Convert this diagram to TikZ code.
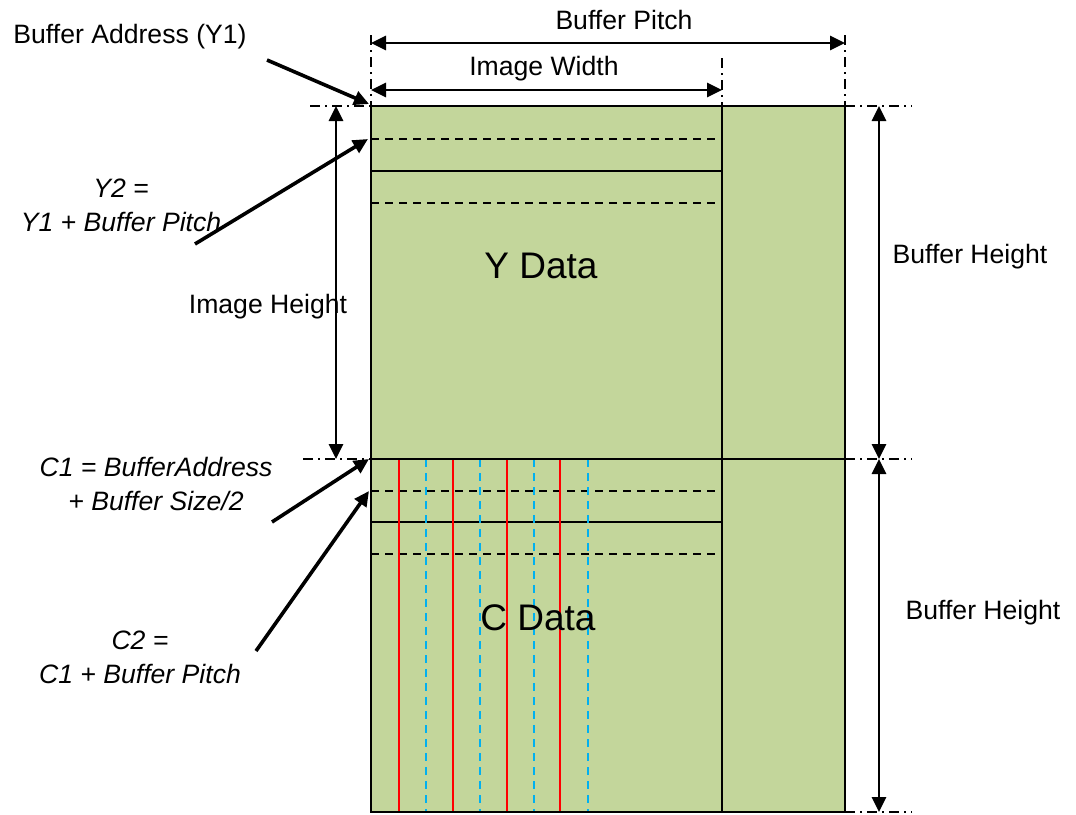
\documentclass[tikz,border=0pt]{standalone}
\usepackage{fontspec}
\setmainfont{Liberation Sans}
\usetikzlibrary{arrows.meta,calc,positioning}
\definecolor{bufgreen}{RGB}{195,214,155}
\definecolor{chromablue}{RGB}{0,176,240}
\tikzset{
  buf/.style={line width=1pt},
  rowdash/.style={line width=1pt,dash pattern=on 4pt off 3pt},
  redcol/.style={red,line width=0.9pt},
  bluecol/.style={chromablue,line width=0.9pt,dash pattern=on 4pt off 3pt},
  extline/.style={line width=0.6pt,dash pattern=on 5pt off 2.5pt on 1pt off 2.5pt},
  dimline/.style={line width=1.4pt},
  pointer/.style={line width=1.8pt,->},
  formula/.style={align=center,font=\fontsize{13.3}{17}\selectfont\itshape},
  bigtxt/.style={font=\fontsize{18.5}{22}\selectfont}
}
\begin{document}
\begin{tikzpicture}[x=0.5pt,y=-0.5pt,>={Triangle[length=7.5pt,width=7pt]},
    font=\fontsize{13.3}{17}\selectfont]
  \useasboundingbox (0,0) rectangle (1076,814);
  % buffer outline
  \coordinate (tl) at (371,106);
  \coordinate (tr) at (845,106);
  \coordinate (ml) at (371,459);
  \coordinate (mr) at (845,459);
  \coordinate (bl) at (371,812);
  \coordinate (br) at (845,812);
  \coordinate (wt) at (722,106);
  \coordinate (wb) at (722,812);
  \fill[bufgreen] (tl) rectangle (br);
  % rows of Y and C planes
  \foreach \y/\s in {139/rowdash,171/buf,203/rowdash,491/rowdash,522/buf,554/rowdash}
    \draw[\s] (371,\y) -- (722,\y);
  \foreach \x in {399,453,507,560}
    \draw[redcol] (\x,459) -- (\x,812);
  \foreach \x in {426,480,534,588}
    \draw[bluecol] (\x,459) -- (\x,812);
  \draw[buf] (tl) rectangle (br);
  \draw[buf] (ml) -- (mr);
  \draw[buf] (wt) -- (wb);
  \node[bigtxt] (ydat) at (541,266) {Y Data};
  \node[bigtxt] (cdat) at (538,618) {C Data};
  % extension lines
  \draw[extline] (371,35) -- (tl);
  \draw[extline] (845,35) -- (tr);
  \draw[extline] (722,58) -- (wt);
  \draw[extline] (310,106) -- (tl);
  \draw[extline] (tr) -- (912,106);
  \draw[extline] (303,459) -- (ml);
  \draw[extline] (mr) -- (912,459);
  \draw[extline] (br) -- (912,812);
  % dimensions
  \coordinate (pitchl) at (371,43);
  \coordinate (pitchr) at (845,43);
  \coordinate (widthl) at (371,90);
  \coordinate (widthr) at (722,90);
  \coordinate (iht) at (336,106);
  \coordinate (ihb) at (336,459);
  \coordinate (bht) at (879,106);
  \coordinate (bhm) at (879,459);
  \coordinate (bhb) at (879,812);
  \draw[dimline,<->] (pitchl) -- (pitchr);
  \draw[dimline,<->] (widthl) -- (widthr);
  \draw[dimline,<->] (iht) -- (ihb);
  \draw[dimline,<->] (bht) -- (bhm);
  \draw[dimline,<->] (bhm) -- (bhb);
  \node (pitch) at (624,20) {Buffer Pitch};
  \node (width) at (544,69) {Image Width};
  \node (iheight) at (268,307) {Image Height};
  \node (bheight1) at (970,257) {Buffer Height};
  \node (bheight2) at (983,613) {Buffer Height};
  % address pointers
  \node (y1) at (130,37) {Buffer Address (Y1)};
  \node[formula] (y2) at (121,205) {Y2 =\\Y1 + Buffer Pitch};
  \node[formula] (c1) at (156,484) {C1 = BufferAddress\\+ Buffer Size/2};
  \node[formula] (c2) at (140,657) {C2 =\\C1 + Buffer Pitch};
  \coordinate (y1tail) at (267,60);
  \coordinate (y2tail) at (195,244);
  \coordinate (c1tail) at (272,522);
  \coordinate (c2tail) at (256,651);
  \draw[pointer] (y1tail) -- (369,104);
  \draw[pointer] (y2tail) -- (368,139);
  \draw[pointer] (c1tail) -- (369,459);
  \draw[pointer] (c2tail) -- (369,491);
\end{tikzpicture}
\end{document}
